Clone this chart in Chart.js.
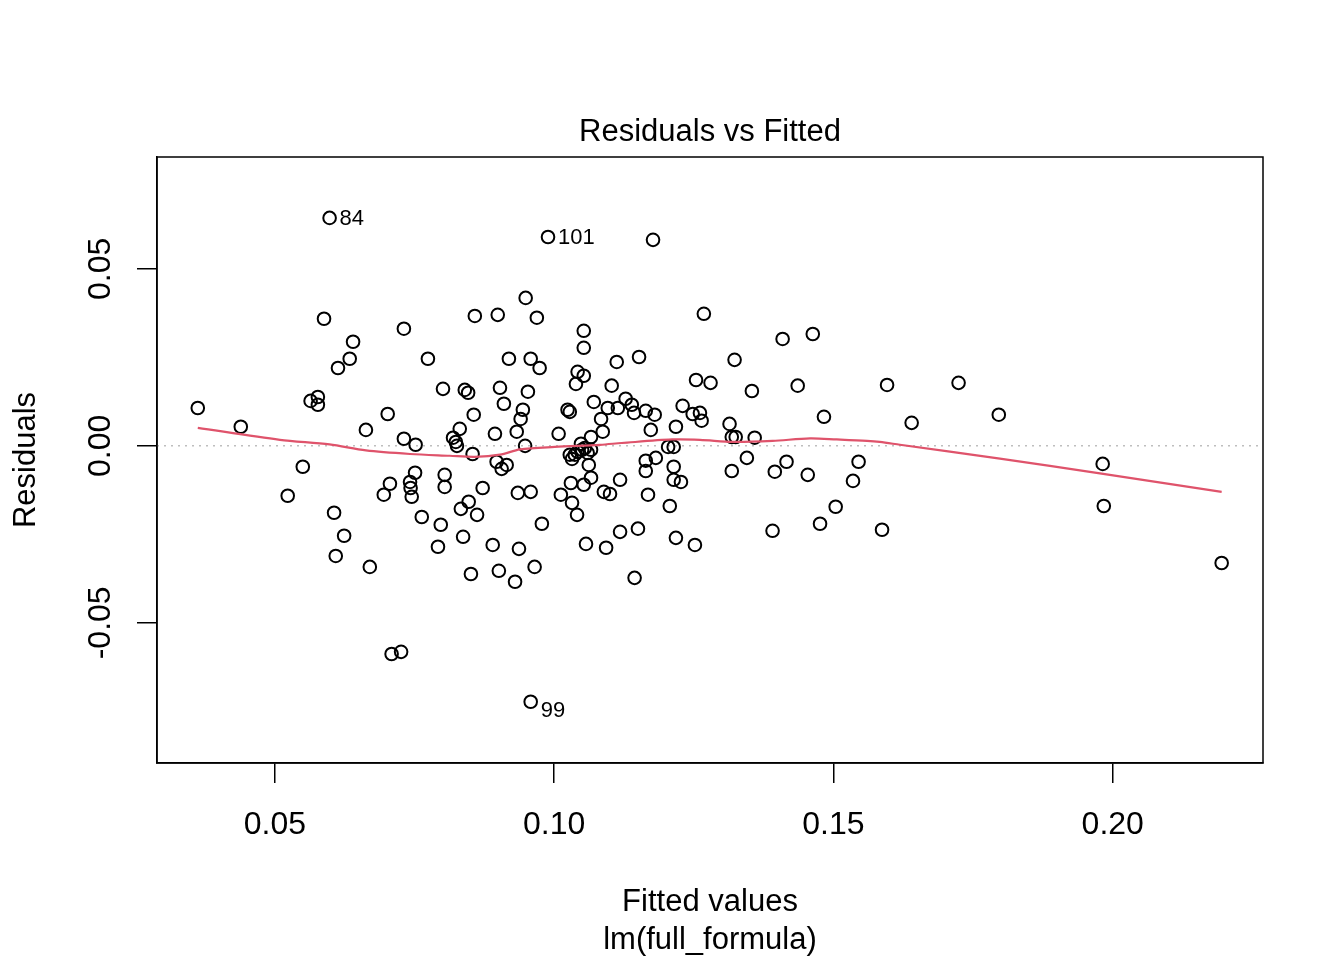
<!DOCTYPE html>
<html lang="en">

<head>
    <meta charset="UTF-8">
    <title>Residuals vs Fitted</title>
    <script src="https://cdn.jsdelivr.net/npm/chart.js"></script>
    <style>
        body { margin: 0; background: #fff; }
        #wrap { width: 1344px; height: 960px; position: relative; }
    </style>
</head>

<body>
    <div id="wrap">
        <canvas id="residPlot"></canvas>
    </div>
    <script>
        // values
        const fitted = [
            0.0362, 0.0439, 0.0523, 0.0550, 0.0564, 0.0577, 0.0577, 0.0588, 0.0598, 0.0606,
            0.0609, 0.0613, 0.0624, 0.0634, 0.0640, 0.0663, 0.0670, 0.0695, 0.0702, 0.0706,
            0.0709, 0.0726, 0.0731, 0.0731, 0.0742, 0.0743, 0.0745, 0.0751, 0.0752, 0.0763,
            0.0774, 0.0792, 0.0797, 0.0801, 0.0804, 0.0804, 0.0819, 0.0824, 0.0826, 0.0831,
            0.0833, 0.0837, 0.0840, 0.0846, 0.0847, 0.0851, 0.0854, 0.0856, 0.0858, 0.0862,
            0.0872, 0.0890, 0.0894, 0.0897, 0.0899, 0.0901, 0.0903, 0.0906, 0.0910, 0.0915,
            0.0919, 0.0930, 0.0933, 0.0935, 0.0937, 0.0940, 0.0944, 0.0948, 0.0949, 0.0953,
            0.0958, 0.0958, 0.0958, 0.0965, 0.0969, 0.0974, 0.0978, 0.0989, 0.1008, 0.1012,
            0.1024, 0.1028, 0.1030, 0.1032, 0.1041, 0.1039, 0.1042, 0.1053, 0.1053, 0.1053,
            0.1057, 0.1066, 0.1066, 0.1071, 0.1084, 0.1087, 0.1053,
            0.1028, 0.1032, 0.1037, 0.1042, 0.1050, 0.1055, 0.1060, 0.1062, 0.1066, 0.1048,
            0.1089, 0.1100, 0.1093, 0.1096, 0.1103, 0.1112, 0.1114, 0.1118, 0.1118, 0.1128,
            0.1139, 0.1143, 0.1144, 0.1150, 0.1152, 0.1164, 0.1164, 0.1164, 0.1168, 0.1173,
            0.1177, 0.1180, 0.1182, 0.1204, 0.1214, 0.1207, 0.1214, 0.1214, 0.1218, 0.1218,
            0.1227, 0.1230, 0.1248, 0.1252, 0.1254, 0.1261, 0.1264, 0.1268, 0.1280, 0.1314,
            0.1318, 0.1325, 0.1318, 0.1323, 0.1345, 0.1354, 0.1359, 0.1391, 0.1395, 0.1409,
            0.1416, 0.1436, 0.1454, 0.1463, 0.1476, 0.1483, 0.1504, 0.1535, 0.1545, 0.1587,
            0.1596, 0.1640, 0.1724, 0.1796, 0.1982, 0.1984, 0.2195
        ];
        const resid = [
            0.0107, 0.0054, -0.0141, -0.0059, 0.0127, 0.0138, 0.0116, 0.0359, 0.0644, -0.0189,
            -0.0311, 0.0220, -0.0254, 0.0246, 0.0294, 0.0045, -0.0342, -0.0138, 0.0090, -0.0107,
            -0.0588, -0.0582, 0.0331, 0.0020, -0.0102, -0.0119, -0.0144, -0.0076, 0.0003, -0.0201,
            0.0246, -0.0285, -0.0223, 0.0161, -0.0082, -0.0116, 0.0023, 0.0011, 0.0000, 0.0048,
            -0.0178, -0.0257, 0.0158, 0.0150, -0.0158, -0.0362, -0.0023, 0.0088, 0.0367, -0.0195,
            -0.0119, -0.0280, 0.0034, -0.0045, 0.0370, -0.0353, 0.0164, -0.0065, 0.0119, -0.0054,
            0.0246, -0.0384, 0.0040, -0.0133, -0.0291, 0.0076, 0.0102, 0.0000, 0.0418, 0.0153,
            0.0246, -0.0130, -0.0723, -0.0342, 0.0362, 0.0220, -0.0220, 0.0590, 0.0034, -0.0138,
            0.0102, 0.0096, -0.0105, -0.0161, -0.0195, 0.0175, 0.0209, 0.0198, 0.0325, 0.0277,
            -0.0277, 0.0025, -0.0090, 0.0124, 0.0076, 0.0040, -0.0110,
            -0.0025, -0.0037, -0.0025, -0.0017, -0.0011, -0.0006, -0.0020, -0.0054, -0.0011, 0.0006,
            -0.0130, -0.0136, -0.0288, 0.0107, 0.0170, 0.0237, 0.0107, -0.0096, -0.0243, 0.0133,
            0.0116, 0.0093, -0.0373, -0.0234, 0.0251, 0.0099, -0.0042, -0.0071, -0.0138, 0.0045,
            0.0582, 0.0088, -0.0034, -0.0003, -0.0003, -0.0170, -0.0059, -0.0096, 0.0054, -0.0260,
            -0.0102, 0.0113, 0.0090, -0.0280, 0.0186, 0.0093, 0.0071, 0.0373, 0.0178, 0.0062,
            0.0025, 0.0025, -0.0071, 0.0243, -0.0034, 0.0155, 0.0023, -0.0240, -0.0073, 0.0302,
            -0.0045, 0.0170, -0.0082, 0.0316, -0.0220, 0.0082, -0.0172, -0.0099, -0.0045, -0.0237,
            0.0172, 0.0065, 0.0178, 0.0088, -0.0051, -0.0170, -0.0331
        ];
        // red smoother, read at a few x positions
        const smoothX = [0.0362, 0.0509, 0.0598, 0.0663, 0.0742, 0.0813, 0.0858, 0.0903, 0.0939, 0.1001, 0.1082, 0.1121,
            0.1211, 0.1261, 0.1320, 0.1391, 0.1458, 0.1506, 0.1560, 0.1583, 0.1619, 0.1798, 0.1977, 0.2195];
        const smoothY = [0.0051, 0.0017, 0.0004, -0.0013, -0.0023, -0.0028, -0.0031, -0.0025, -0.0010, -0.0003, 0.0003, 0.0008,
            0.0018, 0.0017, 0.0011, 0.0014, 0.0021, 0.0018, 0.0014, 0.0011, 0.0003, -0.0036, -0.0078, -0.0130];
        const xTicks = [0.05, 0.10, 0.15, 0.20];
        const yTicks = [-0.05, 0.00, 0.05];
        // labels of the 3 largest |residuals|, in that order
        const idLabels = ['99', '84', '101'];

        const FONT = "'Liberation Sans', Arial, sans-serif";

        const points = fitted.map((x, i) => ({ x: x, y: resid[i] }));
        const smooth = smoothX.map((x, i) => ({ x: x, y: smoothY[i] }));
        const topIdx = resid.map((r, i) => i)
            .sort((a, b) => Math.abs(resid[b]) - Math.abs(resid[a]))
            .slice(0, idLabels.length);

        // box, zero line, y tick labels, titles, point ids
        const rDecor = {
            id: 'rDecor',
            beforeDatasetsDraw(chart) {
                const { ctx, chartArea: a, scales } = chart;
                const y0 = scales.y.getPixelForValue(0);
                ctx.save();
                ctx.strokeStyle = '#bebebe';
                ctx.lineWidth = 1.5;
                ctx.setLineDash([2, 5]);
                ctx.beginPath();
                ctx.moveTo(a.left, y0);
                ctx.lineTo(a.right, y0);
                ctx.stroke();
                ctx.restore();
            },
            afterDraw(chart) {
                const { ctx, chartArea: a, scales } = chart;
                ctx.save();
                ctx.strokeStyle = '#000';
                ctx.lineWidth = 1.5;
                ctx.strokeRect(a.left, a.top, a.right - a.left, a.bottom - a.top);

                ctx.fillStyle = '#000';
                ctx.textAlign = 'center';
                ctx.textBaseline = 'middle';
                ctx.font = '31px ' + FONT;
                const mid = (a.left + a.right) / 2;
                ctx.fillText('Residuals vs Fitted', mid, 132);
                ctx.fillText('Fitted values', mid, 902);
                ctx.fillText('lm(full_formula)', mid, 940);

                // vertical texts
                ctx.font = '32px ' + FONT;
                scales.y.ticks.forEach(t => {
                    const py = scales.y.getPixelForValue(t.value);
                    ctx.save();
                    ctx.translate(101, py);
                    ctx.rotate(-Math.PI / 2);
                    ctx.fillText(t.value.toFixed(2), 0, 0);
                    ctx.restore();
                });
                ctx.font = '31px ' + FONT;
                ctx.save();
                ctx.translate(26, (a.top + a.bottom) / 2);
                ctx.rotate(-Math.PI / 2);
                ctx.fillText('Residuals', 0, 0);
                ctx.restore();

                // ids of the largest residuals
                ctx.font = '22px ' + FONT;
                ctx.textAlign = 'left';
                topIdx.forEach((idx, k) => {
                    const px = scales.x.getPixelForValue(fitted[idx]);
                    const py = scales.y.getPixelForValue(resid[idx]);
                    const dy = resid[idx] < 0 ? 9 : 1;
                    ctx.fillText(idLabels[k], px + 10, py + dy);
                });
                ctx.restore();
            }
        };

        const ctx = document.getElementById('residPlot').getContext('2d');
        const residPlot = new Chart(ctx, {
            type: 'scatter',
            data: {
                datasets: [{
                    type: 'line',
                    data: smooth,
                    borderColor: '#DF536B',
                    borderWidth: 2.2,
                    pointRadius: 0,
                    fill: false,
                    tension: 0.3,
                    order: 0
                }, {
                    data: points,
                    pointStyle: 'circle',
                    pointRadius: 6.3,
                    pointBorderWidth: 2,
                    borderColor: '#000',
                    backgroundColor: 'rgba(0,0,0,0)',
                    order: 1
                }]
            },
            options: {
                responsive: true,
                maintainAspectRatio: false,
                animation: false,
                layout: { padding: { top: 157, right: 81, left: 0, bottom: 0 } },
                plugins: {
                    legend: { display: false },
                    tooltip: { enabled: false }
                },
                scales: {
                    x: {
                        type: 'linear',
                        min: 0.0289,
                        max: 0.2269,
                        afterBuildTicks: s => { s.ticks = xTicks.map(v => ({ value: v })); },
                        afterFit: s => { s.height = 197; },
                        grid: { drawOnChartArea: false, drawTicks: true, tickLength: 20, color: '#000', lineWidth: 1.5 },
                        border: { display: true, color: '#000', width: 1.5 },
                        ticks: {
                            color: '#000',
                            font: { family: FONT, size: 32 },
                            padding: 23,
                            maxRotation: 0,
                            callback: v => v.toFixed(2)
                        }
                    },
                    y: {
                        type: 'linear',
                        min: -0.0896,
                        max: 0.0816,
                        afterBuildTicks: s => { s.ticks = yTicks.map(v => ({ value: v })); },
                        afterFit: s => { s.width = 157; },
                        grid: { drawOnChartArea: false, drawTicks: true, tickLength: 20, color: '#000', lineWidth: 1.5 },
                        border: { display: true, color: '#000', width: 1.5 },
                        ticks: { display: false }
                    }
                }
            },
            plugins: [rDecor]
        });
    </script>
</body>

</html>
